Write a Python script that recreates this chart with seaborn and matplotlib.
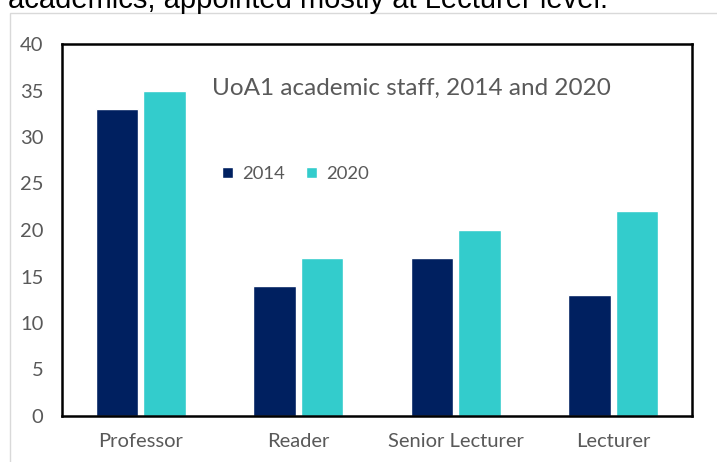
import pandas as pd
import seaborn as sns
import matplotlib.pyplot as plt
from matplotlib.patches import Rectangle

# -------------------------------
# Dados
# -------------------------------
categories = ['Professor', 'Reader', 'Senior Lecturer', 'Lecturer']
years = ['2014', '2020']
staff_2014 = [33, 14, 17, 13]
staff_2020 = [35, 17, 20, 22]
yticks = [0, 5, 10, 15, 20, 25, 30, 35, 40]

df = pd.DataFrame({
    'grade': categories * 2,
    'year': [years[0]] * len(categories) + [years[1]] * len(categories),
    'staff': staff_2014 + staff_2020,
})

sns.set_style('white')
plt.rcParams['font.family'] = ['Lato', 'DejaVu Sans']

W, H = 717, 462
fig = plt.figure(figsize=(W / 100, H / 100), dpi=100)
ax = fig.add_axes([62 / W, 1 - 416 / H, (692 - 62) / W, (416 - 44) / H])

sns.barplot(
    data=df, x='grade', y='staff', hue='year',
    order=categories, hue_order=years,
    palette=['#002060', '#33CCCC'], saturation=1,
    width=0.6, gap=0.1, ax=ax
)

ax.set_ylim(0, 40)
ax.set_yticks(yticks)
ax.set_xlabel('')
ax.set_ylabel('')
ax.tick_params(axis='both', length=0, labelsize=14.5, labelcolor='#595959')
ax.tick_params(axis='y', pad=13.5)
ax.tick_params(axis='x', pad=12)
for s in ax.spines.values():
    s.set_visible(True)
    s.set_color('black')
    s.set_linewidth(1.8)

# titulo dentro do gráfico
fig.text(212 / W, 1 - 88 / H, 'UoA1 academic staff, 2014 and 2020',
         fontsize=17.5, color='#595959', va='center', ha='left')

# legenda
ax.legend(loc='center left', bbox_to_anchor=(222 / W, 1 - 174 / H),
          bbox_transform=fig.transFigure, ncol=2, frameon=False,
          fontsize=13.3, labelcolor='#595959', handlelength=0.6,
          handleheight=0.6, handletextpad=0.5, columnspacing=1.15,
          borderpad=0, borderaxespad=0)

# moldura cinza externa e texto cortado no topo
fig.patches.append(Rectangle((10 / W, -0.05), 1.2, 1 - 13 / H + 0.05,
                             transform=fig.transFigure, fill=False,
                             edgecolor='#d9d9d9', linewidth=1))
fig.text(8 / W, 1 - 8 / H, 'academics, appointed mostly at Lecturer level.',
         fontsize=21, family='Liberation Sans', color='black', va='baseline')

plt.savefig('out.png', dpi=100)
